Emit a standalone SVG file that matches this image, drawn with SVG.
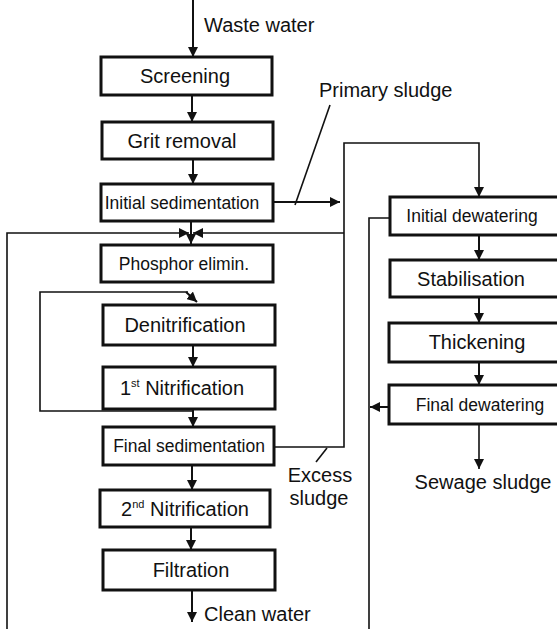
<svg xmlns="http://www.w3.org/2000/svg" width="557" height="629" viewBox="0 0 557 629">
<style>
.box{fill:#fff;stroke:#111;stroke-width:3}
.t{font-family:"Liberation Sans",Arial,sans-serif;font-size:20px;fill:#111;text-anchor:middle}
.s{font-size:17.5px}
.l{text-anchor:start}
.c{fill:none;stroke:#111;stroke-width:2}
.c2{fill:none;stroke:#111;stroke-width:1.6}
</style>
<defs>
<marker id="ah" viewBox="0 0 10 10" refX="10" refY="5" markerWidth="10" markerHeight="10" markerUnits="userSpaceOnUse" orient="auto">
<path d="M0,0 L10,5 L0,10 Z" fill="#111"/>
</marker>
</defs>
<rect width="557" height="629" fill="#fff"/>
<g id="connectors">
<line class="c" x1="193" y1="0" x2="193" y2="57" marker-end="url(#ah)"/>
<line class="c" x1="192" y1="95" x2="192" y2="122" marker-end="url(#ah)"/>
<line class="c" x1="193" y1="159" x2="193" y2="184" marker-end="url(#ah)"/>
<line class="c" x1="191" y1="221" x2="191" y2="244" marker-end="url(#ah)"/>
<polyline class="c2" points="7,629 7,233 189,233" marker-end="url(#ah)"/>
<polyline class="c2" points="344,233 193,233" marker-end="url(#ah)"/>
<line class="c" x1="273" y1="202" x2="340" y2="202" marker-end="url(#ah)"/>
<polyline class="c2" points="274,447 344,447 344,143 479,143 479,197" marker-end="url(#ah)"/>
<polyline class="c2" points="193,411 40,411 40,292 188,292"/>
<line class="c" x1="186" y1="292" x2="197" y2="302" marker-end="url(#ah)"/>
<line class="c" x1="193" y1="345" x2="193" y2="367" marker-end="url(#ah)"/>
<line class="c" x1="193" y1="409" x2="193" y2="427" marker-end="url(#ah)"/>
<line class="c" x1="192" y1="465" x2="192" y2="490" marker-end="url(#ah)"/>
<line class="c" x1="191" y1="527" x2="191" y2="550" marker-end="url(#ah)"/>
<line class="c" x1="192" y1="590" x2="192" y2="622" marker-end="url(#ah)"/>
<polyline class="c2" points="390,218 369,218 369,629"/>
<line class="c" x1="390" y1="407" x2="370" y2="407" marker-end="url(#ah)"/>
<line class="c" x1="479" y1="235" x2="479" y2="260" marker-end="url(#ah)"/>
<line class="c" x1="479" y1="297" x2="479" y2="323" marker-end="url(#ah)"/>
<line class="c" x1="479" y1="362" x2="479" y2="385" marker-end="url(#ah)"/>
<line class="c2" x1="479" y1="424" x2="479" y2="469" marker-end="url(#ah)"/>
<line class="c2" x1="330" y1="105" x2="295" y2="205"/>
<line class="c2" x1="327" y1="448" x2="316" y2="462"/>
</g>
<g id="screening"><rect class="box" x="101" y="57" width="171" height="38"/><text class="t" x="185" y="83">Screening</text></g>
<g id="grit"><rect class="box" x="102" y="122" width="171" height="37"/><text class="t" x="182" y="148">Grit removal</text></g>
<g id="initsed"><rect class="box" x="101" y="184" width="172" height="37"/><text class="t s" x="182" y="209">Initial sedimentation</text></g>
<g id="phosphor"><rect class="box" x="101" y="245" width="172" height="37"/><text class="t s" x="184" y="270">Phosphor elimin.</text></g>
<g id="denitr"><rect class="box" x="103" y="305" width="172" height="40"/><text class="t" x="185" y="332">Denitrification</text></g>
<g id="nitr1"><rect class="box" x="103" y="367" width="172" height="42"/><text class="t" x="182" y="395">1<tspan font-size="11" dy="-8">st</tspan><tspan dy="8"> Nitrification</tspan></text></g>
<g id="finalsed"><rect class="box" x="103" y="427" width="171" height="38"/><text class="t s" x="189" y="452">Final sedimentation</text></g>
<g id="nitr2"><rect class="box" x="100" y="490" width="170" height="37"/><text class="t" x="185" y="516">2<tspan font-size="11" dy="-8">nd</tspan><tspan dy="8"> Nitrification</tspan></text></g>
<g id="filtration"><rect class="box" x="103" y="550" width="172" height="40"/><text class="t" x="191" y="577">Filtration</text></g>
<g id="initdew"><rect class="box" x="390" y="197" width="175" height="38"/><text class="t s" x="472" y="222">Initial dewatering</text></g>
<g id="stab"><rect class="box" x="390" y="260" width="175" height="37"/><text class="t" x="471" y="286">Stabilisation</text></g>
<g id="thick"><rect class="box" x="389" y="323" width="176" height="39"/><text class="t" x="477" y="349">Thickening</text></g>
<g id="finaldew"><rect class="box" x="389" y="385" width="176" height="39"/><text class="t s" x="480" y="411">Final dewatering</text></g>
<g id="labels">
<text class="t l" x="204" y="32">Waste water</text>
<text class="t l" x="319" y="97">Primary sludge</text>
<text class="t" x="320" y="482">Excess</text>
<text class="t" x="319" y="505">sludge</text>
<text class="t" x="483" y="489">Sewage sludge</text>
<text class="t l" x="204" y="621">Clean water</text>
</g>
</svg>
